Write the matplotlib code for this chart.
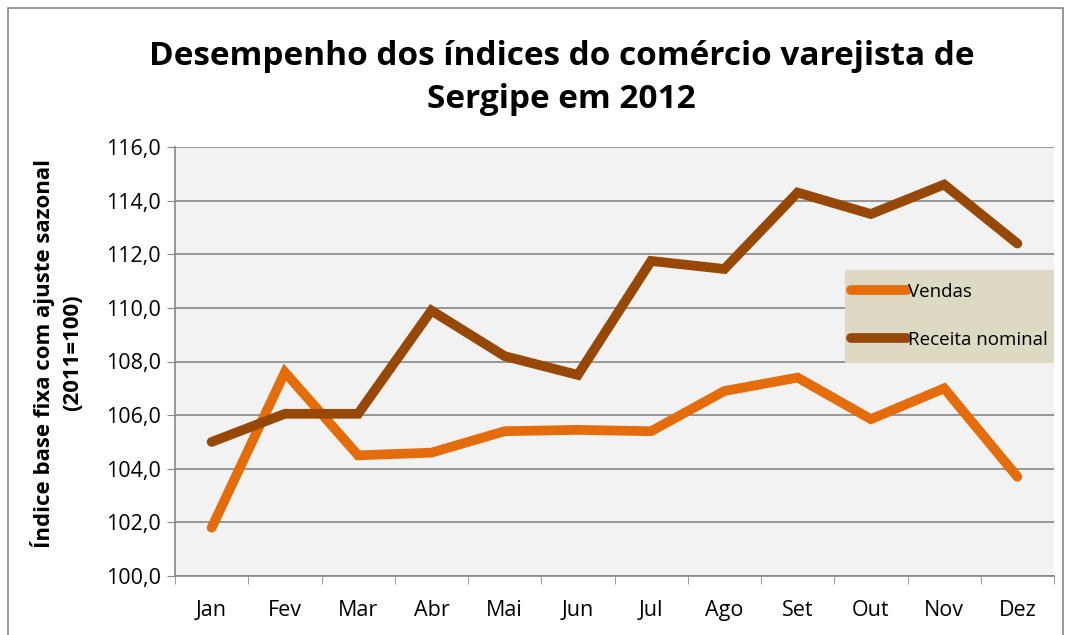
import matplotlib.pyplot as plt
from matplotlib.patches import Rectangle

meses = ['Jan', 'Fev', 'Mar', 'Abr', 'Mai', 'Jun', 'Jul', 'Ago', 'Set', 'Out', 'Nov', 'Dez']
vendas = [101.8, 107.6, 104.5, 104.6, 105.4, 105.45, 105.4, 106.9, 107.4, 105.85, 107.0, 103.7]
receita = [105.0, 106.05, 106.05, 109.9, 108.2, 107.5, 111.75, 111.45, 114.3, 113.5, 114.6, 112.4]

plt.rcParams['font.family'] = ['Open Sans', 'DejaVu Sans']

W, H = 1069, 635
fig = plt.figure(figsize=(W / 100, H / 100), dpi=100)
ax = fig.add_axes([175 / W, 1 - 576 / H, 879 / W, 429 / H])
fig.patches.append(Rectangle((8 / W, -0.01), 1055 / W, 1 - 8 / H + 0.01,
                             transform=fig.transFigure, fill=False,
                             edgecolor='#868686', linewidth=1.2))

x = list(range(len(meses)))
ax.plot(x, vendas, color='#E46C0A', linewidth=7, solid_capstyle='round',
        solid_joinstyle='miter', label='Vendas', zorder=3)
ax.plot(x, receita, color='#974806', linewidth=7, solid_capstyle='round',
        solid_joinstyle='miter', label='Receita nominal', zorder=3)

ax.set_facecolor('#F2F2F2')
ax.set_xlim(-0.5, 11.5)
ax.set_ylim(100, 116)
ax.set_yticks([100 + 2 * i for i in range(9)])
ax.set_yticklabels([f'{v:.1f}'.replace('.', ',') for v in range(100, 117, 2)])
ax.set_xticks(x)
ax.set_xticklabels(meses)
ax.set_xticks([i - 0.5 for i in range(13)], minor=True)
ax.tick_params(axis='x', which='major', length=0, pad=17, labelsize=15.5)
ax.tick_params(axis='x', which='minor', length=6, color='#878787', direction='out')
ax.tick_params(axis='y', length=6, color='#878787', labelsize=15.5, pad=4)
ax.grid(axis='y', color='#878787', linewidth=1.2)
ax.set_axisbelow(True)
for s in ['top', 'right']:
    ax.spines[s].set_visible(False)
for s in ['left', 'bottom']:
    ax.spines[s].set_color('#878787')
    ax.spines[s].set_linewidth(1.2)

ax.set_ylabel('Índice base fixa com ajuste sazonal\n(2011=100)', fontsize=16,
              fontweight='bold', linespacing=1.45)
ax.yaxis.set_label_coords((83 - 175) / 879, (576 - 353) / 429)
fig.text(0.5 * (148 + 975) / W, 1 - 40 / H,
         'Desempenho dos índices do comércio varejista de\nSergipe em 2012',
         ha='center', va='top', fontsize=24, fontweight='bold', linespacing=1.4)

# legend box
ax.add_patch(Rectangle(((845 - 175) / 879, (576 - 363) / 429), (1054 - 845) / 879, 93 / 429,
                       transform=ax.transAxes, facecolor='#DDD9C3', edgecolor='none',
                       zorder=4))
leg = ax.legend(loc='upper left', bbox_to_anchor=((851 - 175) / 879, (576 - 283) / 429),
                frameon=False, fontsize=13.5, handlelength=3.0, handletextpad=0.05,
                labelspacing=1.6, borderpad=0, borderaxespad=0)
leg.set_zorder(5)

fig.savefig('out.png', dpi=100)
